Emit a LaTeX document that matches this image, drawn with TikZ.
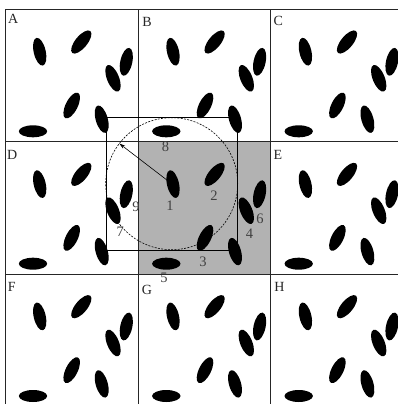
\documentclass[tikz,border=0pt]{standalone}
\usepackage{fontspec}
\setmainfont{Liberation Serif}
\usetikzlibrary{arrows.meta}
\begin{document}
\begin{tikzpicture}[x=1pt,y=-1pt,
  grain/.style={fill=black},
  gridline/.style={line width=0.9pt, draw=black!85},
  lbl/.style={font=\fontsize{14}{14}\selectfont, inner sep=0pt, text=black!85},
  num/.style={font=\fontsize{14.5}{14.5}\selectfont, inner sep=0pt, text=black!75}]
\useasboundingbox (0,0) rectangle (398,404);
\clip (0,0) rectangle (398,404);
\fill[white] (0,0) rectangle (398,404);
% shaded centre cell
\fill[black!30] (138.3,141.7) rectangle (270.7,274);
% neighbour number partly under the grid line
\node[num] (n5) at (164,278) {5};
% grid
\foreach \gx in {5,138.3,270.7} \draw[gridline] (\gx,9.3) -- (\gx,404);
\foreach \gy in {9.3,141.7,274} \draw[gridline] (5,\gy) -- (398,\gy);
% neighbourhood square and circle
\coordinate (c) at (171.7,183.7);
\coordinate (rtip) at (119.3,143.5);
\draw[line width=0.8pt] (106,117.3) rectangle (237.3,250);
\draw[line width=0.6pt, dash pattern=on 2pt off 1.3pt] (c) circle (66);
\draw[line width=0.6pt, -{Stealth[length=6pt,width=3.5pt]}] (c) -- (rtip);
% grains, same pattern in every cell
\foreach \cx in {5,138.3,270.7}
 \foreach \cy in {9.3,141.7,274}
  \foreach \ex/\ey/\ea in {34.7/42.4/103, 76.3/32.7/50.5, 121.3/52.5/77.7,
                            108/69/112, 66.7/96.2/63.4, 96.7/109.9/106, 28/122/0}
   \fill[grain, rotate around={\ea:(\cx+\ex,\cy+\ey)}] (\cx+\ex,\cy+\ey) ellipse (14.2 and 6);
% cell letters
\node[lbl] (lA) at (13.3,18.5) {A};
\node[lbl] (lB) at (147,21.7) {B};
\node[lbl] (lC) at (278.3,21.3) {C};
\node[lbl] (lD) at (12.3,155) {D};
\node[lbl] (lE) at (278,155) {E};
\node[lbl] (lF) at (11.7,286.7) {F};
\node[lbl] (lG) at (147,290) {G};
\node[lbl] (lH) at (279.5,286.7) {H};
% neighbour numbers
\node[num] (n1) at (170,205.8) {1};
\node[num] (n2) at (214,195.3) {2};
\node[num] (n3) at (203,261.3) {3};
\node[num] (n4) at (249.5,234) {4};
\node[num] (n6) at (260,218.3) {6};
\node[num] (n7) at (120.3,232) {7};
\node[num] (n8) at (165.5,147) {8};
\node[num] (n9) at (136,207) {9};
\end{tikzpicture}
\end{document}
